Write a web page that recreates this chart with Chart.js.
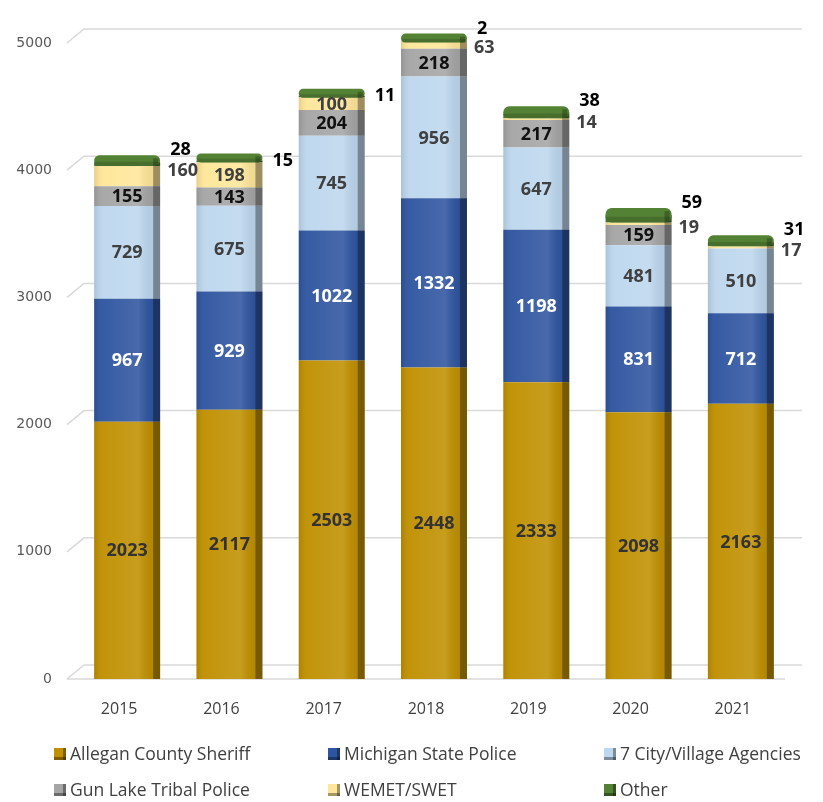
<!DOCTYPE html>
<html>
<head>
<meta charset="utf-8">
<script src="https://cdn.jsdelivr.net/npm/chart.js@4/dist/chart.umd.min.js"></script>
<style>
  html, body { margin: 0; padding: 0; background: #fff; }
  #wrap { width: 823px; height: 802px; }
</style>
</head>
<body>
<div id="wrap"><canvas id="chart" width="823" height="802"></canvas></div>
<script>
const years = ['2015', '2016', '2017', '2018', '2019', '2020', '2021'];
const sheriff = [2023, 2117, 2503, 2448, 2333, 2098, 2163];
const statePolice = [967, 929, 1022, 1332, 1198, 831, 712];
const cityAgencies = [729, 675, 745, 956, 647, 481, 510];
const gunLake = [155, 143, 204, 218, 217, 159, 0];
const wemet = [160, 198, 100, 63, 14, 19, 17];
const other = [28, 15, 11, 2, 38, 59, 31];

// which WEMET labels sit inside the bar (the rest go to the right)
const wemetInside = [false, true, true, false, false, false, false];

const FONT = '"Open Sans", "Liberation Sans", sans-serif';
const SIDE = 7;

const series = [
  { label: 'Allegan County Sheriff', data: sheriff, color: '#C09000', text: '#333333' },
  { label: 'Michigan State Police', data: statePolice, color: '#2F55A0', text: '#ffffff' },
  { label: '7 City/Village Agencies', data: cityAgencies, color: '#BDD7EE', text: '#404040' },
  { label: 'Gun Lake Tribal Police', data: gunLake, color: '#A5A5A5', text: '#111111' },
  { label: 'WEMET/SWET', data: wemet, color: '#FFE699', text: '#404040' },
  { label: 'Other', data: other, color: '#548235', text: '#000000' }
];

const bars3d = {
  id: 'bars3d',
  beforeDatasetsDraw(chart) {
    const { ctx, chartArea: a, scales: { y } } = chart;
    ctx.save();
    ctx.strokeStyle = '#d9d9d9';
    ctx.lineWidth = 1.5;
    y.ticks.forEach(t => {
      const py = y.getPixelForValue(t.value);
      ctx.beginPath();
      ctx.moveTo(a.left - 9, py);
      ctx.lineTo(a.left + 8, py - 14);
      ctx.lineTo(a.right + 10, py - 14);
      ctx.stroke();
      if (t.value === 0) {
        ctx.beginPath();
        ctx.moveTo(a.left - 9, py);
        ctx.lineTo(a.right - 7, py);
        ctx.stroke();
      }
    });
    ctx.restore();
  },
  afterDatasetsDraw(chart) {
    const { ctx } = chart;
    const metas = chart.data.datasets.map((d, i) => chart.getDatasetMeta(i));
    ctx.save();
    // shading of front face and side
    metas.forEach(meta => {
      meta.data.forEach(el => {
        const x0 = el.x - el.width / 2, x1 = el.x + el.width / 2;
        const top = Math.min(el.y, el.base), h = Math.abs(el.base - el.y);
        if (h <= 0) return;
        const g = ctx.createLinearGradient(x0, 0, x1 - SIDE, 0);
        g.addColorStop(0, 'rgba(0,0,0,0.10)');
        g.addColorStop(0.15, 'rgba(255,255,255,0.04)');
        g.addColorStop(0.75, 'rgba(255,255,255,0.12)');
        g.addColorStop(1, 'rgba(0,0,0,0.06)');
        ctx.fillStyle = g;
        ctx.fillRect(x0, top, el.width - SIDE, h);
        ctx.fillStyle = 'rgba(0,0,0,0.38)';
        ctx.fillRect(x1 - SIDE, top, SIDE, h);
      });
    });
    // green top cap
    const last = metas[metas.length - 1];
    const prev = metas[metas.length - 2];
    last.data.forEach((el, i) => {
      const x0 = el.x - el.width / 2;
      const capTop = el.y - 7;
      const capBottom = Math.max(prev.data[i].y, capTop + 9);
      ctx.fillStyle = '#548235';
      ctx.beginPath();
      ctx.roundRect(x0, capTop, el.width, capBottom - capTop, 6);
      ctx.fill();
      ctx.fillStyle = 'rgba(0,0,0,0.15)';
      ctx.beginPath();
      ctx.roundRect(x0, capTop + (capBottom - capTop) * 0.6, el.width, (capBottom - capTop) * 0.4, [0, 0, 5, 5]);
      ctx.fill();
      ctx.fillStyle = 'rgba(0,0,0,0.25)';
      ctx.fillRect(x0 + el.width - SIDE, capTop + 3, SIDE - 2, capBottom - capTop - 3);
    });
    // value labels
    ctx.font = 'bold 18px ' + FONT;
    ctx.textBaseline = 'middle';
    metas.forEach((meta, di) => {
      const s = series[di];
      meta.data.forEach((el, i) => {
        const v = s.data[i];
        if (!v) return;
        const right = el.x + el.width / 2;
        const capTop = last.data[i].y - 7;
        const capBottom = Math.max(prev.data[i].y, capTop + 9);
        if (di === 5) {
          ctx.textAlign = 'left';
          ctx.fillStyle = '#000';
          const outsideW = !wemetInside[i];
          ctx.fillText(v, right + 10, outsideW ? capTop - 5 : capTop + 7);
        } else if (di === 4 && !wemetInside[i]) {
          ctx.textAlign = 'left';
          ctx.fillStyle = '#404040';
          ctx.fillText(v, right + 7, capBottom + 5);
        } else {
          ctx.textAlign = 'center';
          ctx.fillStyle = s.text;
          ctx.fillText(v, el.x, (el.y + el.base) / 2 + 1);
        }
      });
    });
    ctx.restore();
  },
  afterDraw(chart) {
    const { ctx } = chart;
    const cols = [54, 328, 604];
    const rows = [754, 790];
    ctx.save();
    ctx.font = '17.5px ' + FONT;
    ctx.textBaseline = 'middle';
    ctx.textAlign = 'left';
    chart.data.datasets.forEach((ds, i) => {
      const bx = cols[i % 3], by = rows[Math.floor(i / 3)];
      ctx.fillStyle = ds.backgroundColor;
      ctx.fillRect(bx, by - 6, 12, 12);
      ctx.fillStyle = 'rgba(0,0,0,0.35)';
      ctx.fillRect(bx + 9, by - 6, 3, 12);
      ctx.fillRect(bx, by + 3, 12, 3);
      ctx.fillStyle = '#404040';
      ctx.fillText(ds.label, bx + 16, by + 1);
    });
    ctx.restore();
  }
};

new Chart(document.getElementById('chart'), {
  type: 'bar',
  data: {
    labels: years,
    datasets: series.map(s => ({
      label: s.label,
      data: s.data,
      backgroundColor: s.color,
      borderWidth: 0,
      clip: false,
      categoryPercentage: 1,
      barPercentage: 0.645
    }))
  },
  options: {
    responsive: false,
    animation: false,
    layout: { padding: { top: 43, right: 31, left: 0, bottom: 0 } },
    plugins: { legend: { display: false }, tooltip: { enabled: false } },
    scales: {
      x: {
        stacked: true,
        grid: { display: false },
        border: { display: false },
        ticks: { color: '#404040', font: { family: FONT, size: 16 }, padding: 13, labelOffset: -8 },
        afterFit: s => { s.height = 123; }
      },
      y: {
        stacked: true,
        min: 0,
        max: 5000,
        grid: { display: false, drawTicks: false },
        border: { display: false },
        ticks: {
          stepSize: 1000,
          color: '#595959',
          font: { family: '"DejaVu Sans", sans-serif', size: 14 },
          padding: 24,
          callback: v => String(v)
        },
        afterFit: s => { s.width = 76; }
      }
    }
  },
  plugins: [bars3d]
});
</script>
</body>
</html>
